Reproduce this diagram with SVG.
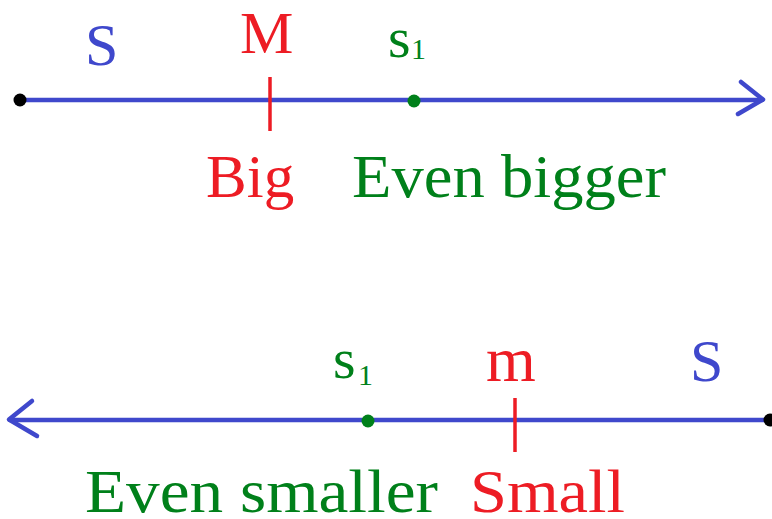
<svg xmlns="http://www.w3.org/2000/svg" width="772" height="519" viewBox="0 0 772 519">
<style>
text{font-family:"Liberation Serif","Times New Roman",serif}
.b{fill:#3f48cc}.r{fill:#ed1c24}.g{fill:#00801a}
.ax{stroke:#3f48cc;stroke-width:4.5;fill:none;stroke-linecap:round;stroke-linejoin:round}
.tk{stroke:#ed1c24;stroke-width:3.5}
</style>
<g id="connectors">
<line class="ax" x1="20" y1="100" x2="762" y2="100"/>
<polyline class="ax" points="741,82 763,99.5 738,114"/>
<line class="ax" x1="10" y1="420" x2="770" y2="420"/>
<polyline class="ax" points="32,401 9,419.5 37,436"/>
</g>
<g id="top-line">
<circle cx="20" cy="100" r="6.5" fill="#000"/>
<line class="tk" x1="270" y1="77" x2="270" y2="131"/>
<circle cx="414" cy="101" r="6.5" fill="#00801a"/>
<text class="b" x="85" y="65" font-size="60">S</text>
<text class="r" x="240" y="53" font-size="60">M</text>
<text class="g" x="388" y="57" font-size="58">s</text>
<text class="g" x="411" y="59" font-size="30">1</text>
<text class="r" x="206" y="197" font-size="61">Big</text>
<text class="g" x="352" y="197" font-size="62" textLength="314" lengthAdjust="spacingAndGlyphs">Even bigger</text>
</g>
<g id="bottom-line">
<circle cx="770" cy="420" r="6.5" fill="#000"/>
<line class="tk" x1="515" y1="398" x2="515" y2="452"/>
<circle cx="368" cy="421" r="6.5" fill="#00801a"/>
<text class="b" x="690" y="381" font-size="60">S</text>
<text class="r" x="486" y="381" font-size="64">m</text>
<text class="g" x="333" y="378" font-size="58">s</text>
<text class="g" x="358" y="385" font-size="30">1</text>
<text class="g" x="85" y="512" font-size="62" textLength="353" lengthAdjust="spacingAndGlyphs">Even smaller</text>
<text class="r" x="470" y="512" font-size="62" textLength="155" lengthAdjust="spacingAndGlyphs">Small</text>
</g>
</svg>
